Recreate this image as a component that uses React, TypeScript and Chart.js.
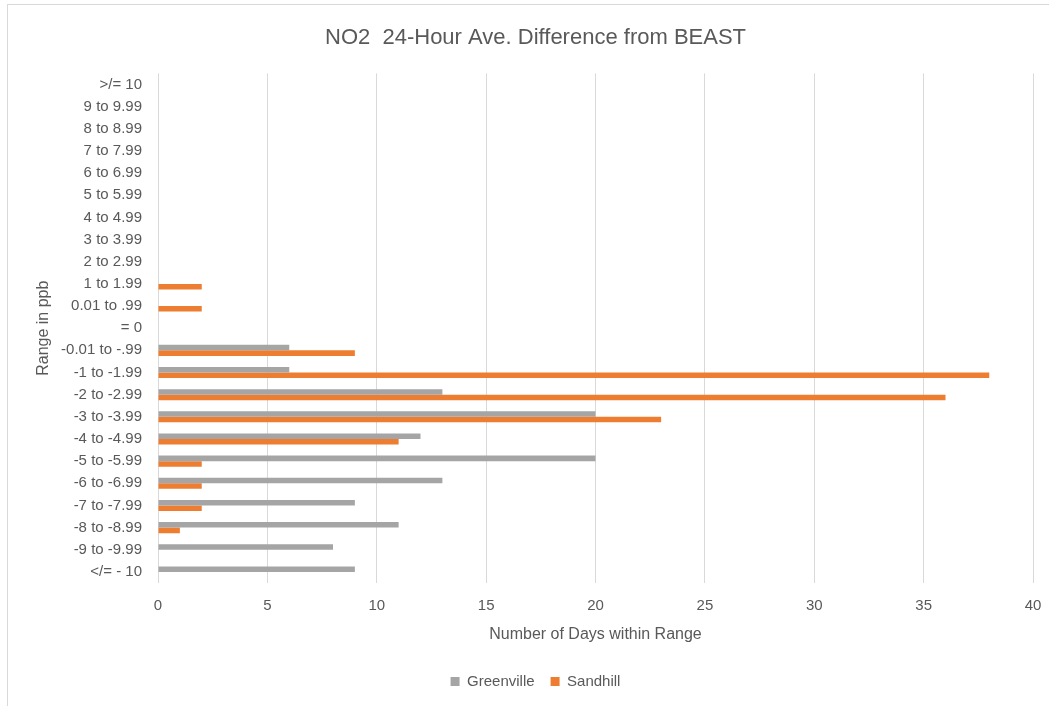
import React, { useEffect, useRef } from "react";
import { Chart, registerables } from "chart.js";

Chart.register(...registerables);

const categories = [
  ">/= 10", "9 to 9.99", "8 to 8.99", "7 to 7.99", "6 to 6.99", "5 to 5.99",
  "4 to 4.99", "3 to 3.99", "2 to 2.99", "1 to 1.99", "0.01 to .99", "= 0",
  "-0.01 to -.99", "-1 to -1.99", "-2 to -2.99", "-3 to -3.99", "-4 to -4.99",
  "-5 to -5.99", "-6 to -6.99", "-7 to -7.99", "-8 to -8.99", "-9 to -9.99", "</= - 10",
];

const greenville = [0, 0, 0, 0, 0, 0, 0, 0, 0, 0, 0, 0, 6, 6, 13, 20, 12, 20, 13, 9, 11, 8, 9];
const sandhill = [0, 0, 0, 0, 0, 0, 0, 0, 0, 2, 2, 0, 9, 38, 36, 23, 11, 2, 2, 2, 1, 0, 0];

const seriesNames = ["Greenville", "Sandhill"];
const seriesColors = ["#A5A5A5", "#ED7D31"];

const titleText = "NO2  24-Hour Ave. Difference from BEAST";
const xTitle = "Number of Days within Range";
const yTitle = "Range in ppb";

const FONT = '"Liberation Sans", Arial, sans-serif';
const TEXT = "#595959";
const GRID = "#D9D9D9";

export default function App() {
  const ref = useRef<HTMLCanvasElement | null>(null);

  useEffect(() => {
    if (!ref.current) return;
    const chart = new Chart(ref.current, {
      type: "bar",
      data: {
        labels: categories,
        datasets: [
          { label: seriesNames[0], data: greenville, backgroundColor: seriesColors[0], borderWidth: 0 },
          { label: seriesNames[1], data: sandhill, backgroundColor: seriesColors[1], borderWidth: 0 },
        ],
      },
      options: {
        indexAxis: "y",
        responsive: false,
        animation: false,
        devicePixelRatio: 1,
        categoryPercentage: 0.5,
        barPercentage: 1,
        layout: { padding: { left: 38, right: 16, top: 0, bottom: 7 } },
        plugins: {
          title: {
            display: true,
            text: titleText,
            color: TEXT,
            font: { family: FONT, size: 22, weight: "normal" },
            padding: { top: 25, bottom: 22 },
          },
          legend: {
            position: "bottom",
            labels: {
              color: TEXT,
              font: { family: FONT, size: 15 },
              boxWidth: 9,
              boxHeight: 9,
              padding: 16,
            },
          },
          tooltip: { enabled: false },
        },
        scales: {
          x: {
            min: 0,
            max: 40,
            ticks: { stepSize: 5, color: TEXT, font: { family: FONT, size: 15 }, padding: 14 },
            grid: { color: GRID, lineWidth: 1, drawTicks: false },
            border: { display: false },
            title: {
              display: true,
              text: xTitle,
              color: TEXT,
              font: { family: FONT, size: 16 },
              padding: { top: 0, bottom: 14 },
            },
            afterFit: (scale: any) => {
              scale.height = 75;
              scale.paddingRight = 0;
              scale.paddingLeft = 0;
            },
          },
          y: {
            type: "category",
            ticks: { color: TEXT, font: { family: FONT, size: 15 }, padding: 16, autoSkip: false },
            grid: { display: false, drawTicks: false },
            border: { display: false },
            title: {
              display: true,
              text: yTitle,
              color: TEXT,
              font: { family: FONT, size: 16 },
              padding: { top: -4, bottom: 0 },
            },
            afterFit: (scale: any) => {
              scale.width = 120;
            },
          },
        },
      },
    });
    return () => chart.destroy();
  }, []);

  return (
    <div style={{ position: "absolute", left: 0, top: 0, width: 1049, height: 706, background: "#fff" }}>
      <div
        style={{
          position: "absolute",
          left: 7,
          top: 4,
          width: 1100,
          height: 800,
          borderLeft: "1px solid #D9D9D9",
          borderTop: "1px solid #D9D9D9",
        }}
      />
      <canvas ref={ref} width={1049} height={706} style={{ position: "absolute", left: 0, top: 0 }} />
    </div>
  );
}
